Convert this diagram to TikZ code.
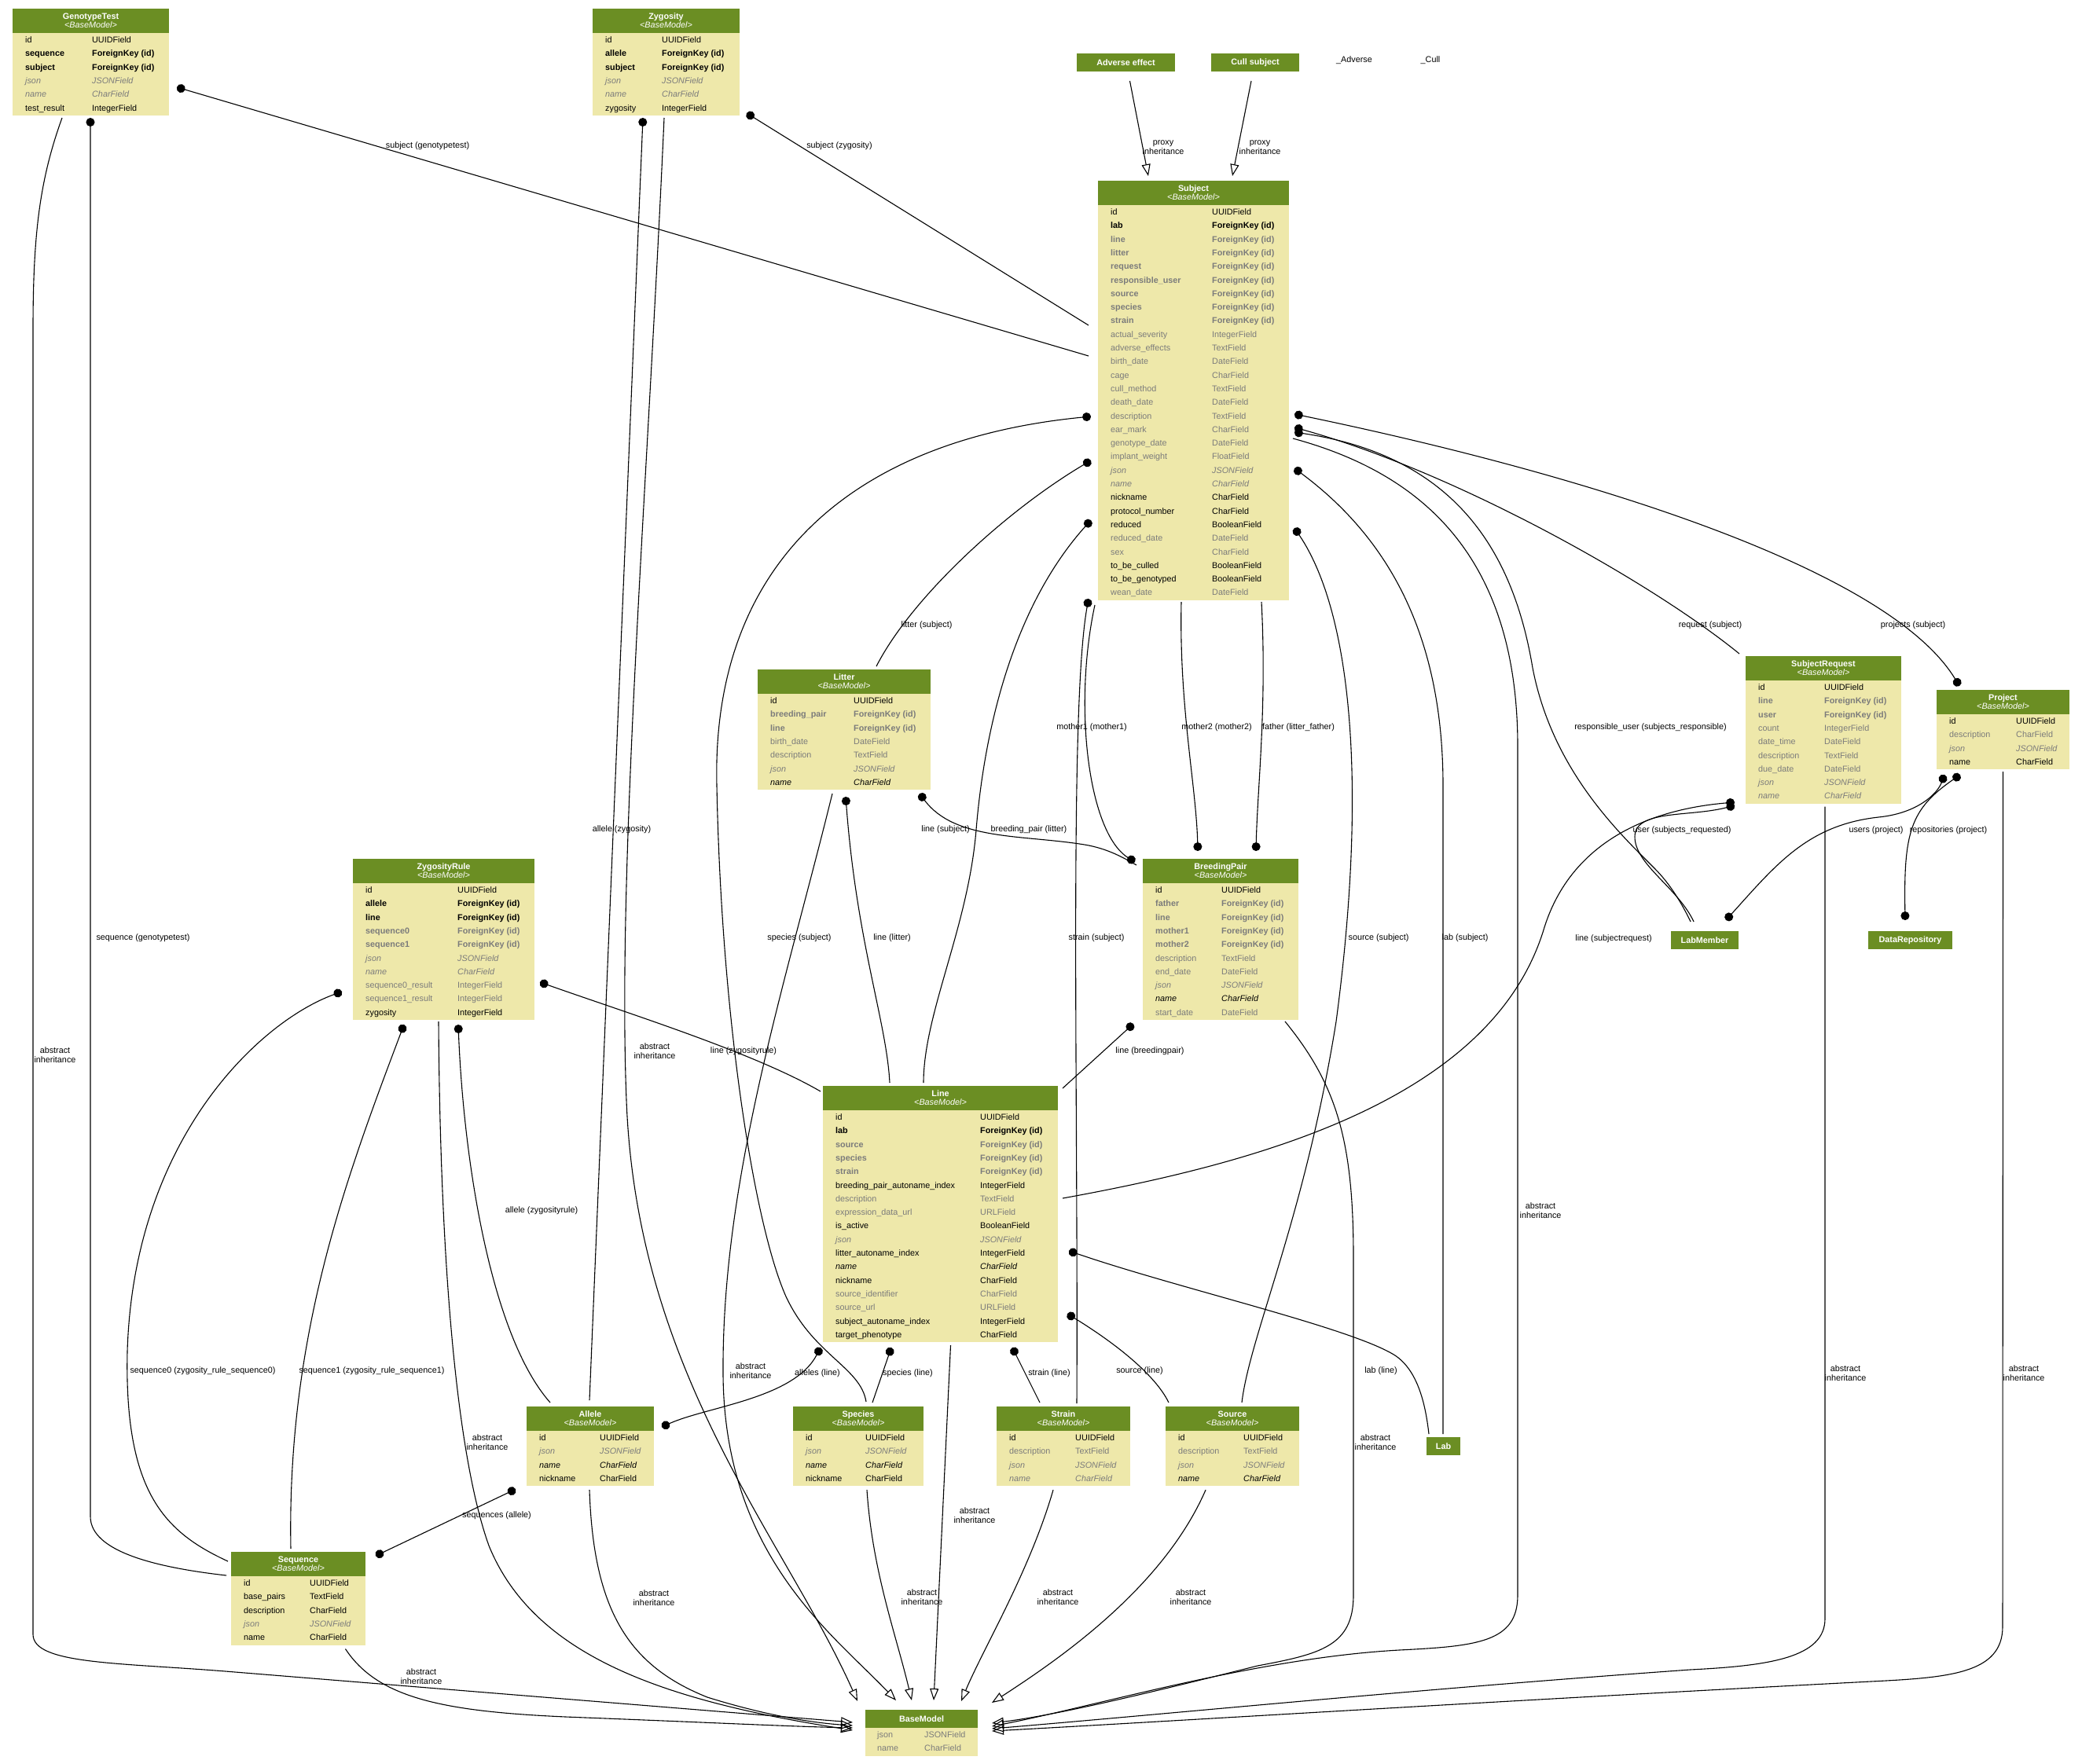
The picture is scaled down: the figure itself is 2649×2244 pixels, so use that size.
\documentclass[tikz,border=0pt]{standalone}
\usepackage{fontspec}
\setmainfont{Liberation Sans}
\usetikzlibrary{arrows.meta, calc}

\definecolor{headgreen}{HTML}{6B8E23}
\definecolor{bodyyellow}{HTML}{EEE8AA}
\definecolor{fieldgray}{HTML}{7B7B7B}

\newcommand{\ffont}{\fontsize{10.8}{12}\selectfont}

% name, left, top, width, second column, rows, title, fields
\newcommand{\model}[8]{%
  \pgfmathsetmacro{\mh}{32+17.3*#6}
  \fill[body] (#2,#3) rectangle ++(#4,\mh);
  \fill[head] (#2,#3) rectangle ++(#4,31);
  \node[modtitle] at (#2+#4/2,#3+13.9) {#7};
  \node[modsub] at (#2+#4/2,#3+24.8) {<BaseModel>};
  \node[frame, minimum width=#4pt, minimum height=\mh pt, anchor=north west] (#1) at (#2,#3) {};
  \foreach \st/\fa/\fb [count=\k] in {#8} {
    \node[\st] at (#2+16,#3+26.25+17.3*\k) {\fa};
    \node[\st] at (#2+#5,#3+26.25+17.3*\k) {\fb};
  }%
}

\begin{document}
\begin{tikzpicture}[
    x=1pt, y=-1pt,
    body/.style={fill=bodyyellow},
    head/.style={fill=headgreen},
    frame/.style={draw=none, inner sep=0pt, outer sep=0pt},
    modtitle/.style={anchor=base, inner sep=0pt, font=\ffont\bfseries, text=white},
    modsub/.style={anchor=base, inner sep=0pt, font=\ffont\itshape, text=white},
    headonly/.style={fill=headgreen, text=white, font=\ffont\bfseries, minimum height=23pt, inner sep=0pt, outer sep=0pt, anchor=north west},
    rowN/.style={anchor=base west, inner sep=0pt, font=\ffont},
    rowB/.style={rowN, font=\ffont\bfseries},
    rowBG/.style={rowB, text=fieldgray},
    rowG/.style={rowN, text=fieldgray},
    rowIG/.style={rowN, font=\ffont\itshape, text=fieldgray},
    rowI/.style={rowN, font=\ffont\itshape},
    elabel/.style={font=\ffont, align=center, inner sep=0pt},
    fk/.style={{Circle[length=11pt]}-, line width=1.1pt},
    fkback/.style={-{Circle[length=11pt]}, line width=1.1pt},
    mm/.style={{Circle[length=11pt]}-{Circle[length=11pt]}, line width=1.1pt},
    inh/.style={-{Triangle[open, length=15pt, width=11pt]}, line width=1.1pt}
  ]

  \fill[white] (0,0) rectangle (2649,2244);

  \model{gt}{16}{11}{199}{101}{6}{GenotypeTest}{rowN/id/UUIDField, rowB/sequence/ForeignKey (id), rowB/subject/ForeignKey (id), rowIG/json/JSONField, rowIG/name/CharField, rowN/test\_result/IntegerField}
  \model{zyg}{754}{11}{187}{88}{6}{Zygosity}{rowN/id/UUIDField, rowB/allele/ForeignKey (id), rowB/subject/ForeignKey (id), rowIG/json/JSONField, rowIG/name/CharField, rowN/zygosity/IntegerField}
  \model{subj}{1397}{230}{243}{145}{29}{Subject}{rowN/id/UUIDField, rowB/lab/ForeignKey (id), rowBG/line/ForeignKey (id), rowBG/litter/ForeignKey (id), rowBG/request/ForeignKey (id), rowBG/responsible\_user/ForeignKey (id), rowBG/source/ForeignKey (id), rowBG/species/ForeignKey (id), rowBG/strain/ForeignKey (id), rowG/actual\_severity/IntegerField, rowG/adverse\_effects/TextField, rowG/birth\_date/DateField, rowG/cage/CharField, rowG/cull\_method/TextField, rowG/death\_date/DateField, rowG/description/TextField, rowG/ear\_mark/CharField, rowG/genotype\_date/DateField, rowG/implant\_weight/FloatField, rowIG/json/JSONField, rowIG/name/CharField, rowN/nickname/CharField, rowN/protocol\_number/CharField, rowN/reduced/BooleanField, rowG/reduced\_date/DateField, rowG/sex/CharField, rowN/to\_be\_culled/BooleanField, rowN/to\_be\_genotyped/BooleanField, rowG/wean\_date/DateField}
  \model{lit}{964}{852}{220}{122}{7}{Litter}{rowN/id/UUIDField, rowBG/breeding\_pair/ForeignKey (id), rowBG/line/ForeignKey (id), rowG/birth\_date/DateField, rowG/description/TextField, rowIG/json/JSONField, rowI/name/CharField}
  \model{bp}{1454}{1093}{198}{100}{10}{BreedingPair}{rowN/id/UUIDField, rowBG/father/ForeignKey (id), rowBG/line/ForeignKey (id), rowBG/mother1/ForeignKey (id), rowBG/mother2/ForeignKey (id), rowG/description/TextField, rowG/end\_date/DateField, rowIG/json/JSONField, rowI/name/CharField, rowG/start\_date/DateField}
  \model{sreq}{2221}{835}{198}{100}{9}{SubjectRequest}{rowN/id/UUIDField, rowBG/line/ForeignKey (id), rowBG/user/ForeignKey (id), rowG/count/IntegerField, rowG/date\_time/DateField, rowG/description/TextField, rowG/due\_date/DateField, rowIG/json/JSONField, rowIG/name/CharField}
  \model{proj}{2464}{878}{169}{101}{4}{Project}{rowN/id/UUIDField, rowG/description/CharField, rowIG/json/JSONField, rowN/name/CharField}
  \model{zrule}{449}{1093}{231}{133}{10}{ZygosityRule}{rowN/id/UUIDField, rowB/allele/ForeignKey (id), rowB/line/ForeignKey (id), rowBG/sequence0/ForeignKey (id), rowBG/sequence1/ForeignKey (id), rowIG/json/JSONField, rowIG/name/CharField, rowG/sequence0\_result/IntegerField, rowG/sequence1\_result/IntegerField, rowN/zygosity/IntegerField}
  \model{line}{1047}{1382}{299}{200}{17}{Line}{rowN/id/UUIDField, rowB/lab/ForeignKey (id), rowBG/source/ForeignKey (id), rowBG/species/ForeignKey (id), rowBG/strain/ForeignKey (id), rowN/breeding\_pair\_autoname\_index/IntegerField, rowG/description/TextField, rowG/expression\_data\_url/URLField, rowN/is\_active/BooleanField, rowIG/json/JSONField, rowN/litter\_autoname\_index/IntegerField, rowI/name/CharField, rowN/nickname/CharField, rowG/source\_identifier/CharField, rowG/source\_url/URLField, rowN/subject\_autoname\_index/IntegerField, rowN/target\_phenotype/CharField}
  \model{allele}{670}{1790}{162}{93}{4}{Allele}{rowN/id/UUIDField, rowIG/json/JSONField, rowI/name/CharField, rowN/nickname/CharField}
  \model{species}{1009}{1790}{166}{92}{4}{Species}{rowN/id/UUIDField, rowIG/json/JSONField, rowI/name/CharField, rowN/nickname/CharField}
  \model{strain}{1268}{1790}{170}{100}{4}{Strain}{rowN/id/UUIDField, rowG/description/TextField, rowIG/json/JSONField, rowIG/name/CharField}
  \model{source}{1483}{1790}{170}{99}{4}{Source}{rowN/id/UUIDField, rowG/description/TextField, rowIG/json/JSONField, rowI/name/CharField}
  \model{seq}{294}{1975}{171}{100}{5}{Sequence}{rowN/id/UUIDField, rowN/base\_pairs/TextField, rowN/description/CharField, rowIG/json/JSONField, rowN/name/CharField}

  \fill[body] (1101,2176) rectangle ++(143,58.6);
  \fill[head] (1101,2176) rectangle ++(143,23);
  \node[modtitle] at (1172.5,2191.5) {BaseModel};
  \node[frame, minimum width=143pt, minimum height=58.6pt, anchor=north west] (base) at (1101,2176) {};
  \node[rowG] at (1116,2211) {json};
  \node[rowG] at (1176,2211) {JSONField};
  \node[rowG] at (1116,2228) {name};
  \node[rowG] at (1176,2228) {CharField};

  \node[headonly, minimum width=125pt] (adv) at (1370,68) {Adverse effect};
  \node[headonly, minimum width=112pt] (cull) at (1541,68) {Cull subject};
  \node[headonly, minimum width=86pt] (lm) at (2126,1185) {LabMember};
  \node[headonly, minimum width=107pt] (drepo) at (2377,1185) {DataRepository};
  \node[headonly, minimum width=43pt] (lab) at (1815,1829) {Lab};
  \node[elabel] (advname) at (1723,77) {\_Adverse};
  \node[elabel] (cullname) at (1820,77) {\_Cull};

  \draw[fk] ($(gt.north west)+(209,100)$) -- ($(subj.north west)+(-12,223)$);
  \draw[fk] ($(zyg.north west)+(196,133)$) -- ($(subj.north west)+(-12,184)$);
  \draw[fk] ($(gt.north west)+(99,139)$) -- (115,1930) .. controls (115,1975) and (200,1995) .. ($(seq.north west)+(-6,30)$);
  \draw[fk] ($(zyg.north west)+(64,139)$) -- ($(allele.north west)+(80,-8)$);
  \draw[fk] ($(subj.north west)+(-9,300)$) .. controls (1080,560) and (905,720) .. (912,1000) .. controls (918,1300) and (960,1560) .. (1000,1650) .. controls (1035,1725) and (1095,1740) .. ($(species.north west)+(93,-6)$);
  \draw[fk] ($(subj.north west)+(-9,356)$) .. controls (1280,650) and (1160,760) .. ($(lit.north west)+(151,-4)$);
  \draw[fk] ($(subj.north west)+(-9,432)$) .. controls (1300,760) and (1255,900) .. (1242,1056) .. controls (1232,1180) and (1175,1290) .. ($(line.north west)+(128,-4)$);
  \draw[fk] ($(subj.north west)+(-12,532)$) .. controls (1360,900) and (1372,1400) .. ($(strain.north west)+(102,-4)$);
  \draw[fkback] ($(subj.north west)+(-4,540)$) .. controls (1365,900) and (1385,1060) .. ($(bp.north west)+(-10,4)$);
  \draw[fkback] ($(subj.north west)+(106,536)$) .. controls (1500,900) and (1522,1000) .. ($(bp.north west)+(70,-10)$);
  \draw[fkback] ($(subj.north west)+(208,536)$) .. controls (1612,900) and (1600,1000) .. ($(bp.north west)+(144,-10)$);
  \draw[fk] ($(lit.north west)+(206,158)$) .. controls (1215,1070) and (1300,1062) .. (1380,1075) .. controls (1410,1080) and (1430,1092) .. ($(bp.north west)+(-8,8)$);
  \draw[fk] ($(lit.north west)+(112,162)$) .. controls (1090,1200) and (1128,1300) .. ($(line.north west)+(85,-4)$);
  \draw[fk] ($(bp.north west)+(-12,210)$) -- ($(line.north east)+(6,3)$);
  \draw[fk] ($(subj.north east)+(7,314)$) .. controls (1850,600) and (2100,740) .. ($(sreq.north west)+(-8,-3)$);
  \draw[mm] ($(subj.north east)+(7,297)$) .. controls (2000,600) and (2400,720) .. ($(proj.north west)+(29,-5)$);
  \draw[fk] ($(subj.north east)+(7,320)$) .. controls (1850,580) and (1925,700) .. (1950,850) .. controls (1975,980) and (2060,1060) .. (2105,1105) .. controls (2125,1125) and (2140,1150) .. ($(lm.north west)+(25,-12)$);
  \draw[fk] ($(subj.north east)+(7,366)$) .. controls (1760,680) and (1836,800) .. (1836,1000) -- ($(lab.north west)+(21,-4)$);
  \draw[fk] ($(subj.north east)+(7,442)$) .. controls (1720,780) and (1740,1000) .. (1700,1300) .. controls (1660,1550) and (1590,1700) .. ($(source.north west)+(97,-5)$);
  \draw[fk] ($(sreq.north west)+(-14,190)$) .. controls (2150,1040) and (2080,1030) .. (2080,1065) .. controls (2080,1100) and (2135,1130) .. ($(lm.north west)+(29,-12)$);
  \draw[fk] ($(sreq.north west)+(-14,186)$) .. controls (2100,1030) and (2000,1070) .. (1965,1180) .. controls (1900,1400) and (1600,1480) .. ($(line.north east)+(6,143)$);
  \draw[mm] ($(proj.north west)+(10,108)$) .. controls (2465,1010) and (2440,1035) .. (2390,1040) .. controls (2300,1050) and (2260,1100) .. ($(lm.north west)+(70,-14)$);
  \draw[mm] ($(proj.north west)+(30,108)$) .. controls (2430,1030) and (2422,1060) .. ($(drepo.north west)+(47,-14)$);
  \draw[fk] ($(zrule.north east)+(7,157)$) .. controls (800,1290) and (960,1340) .. ($(line.north west)+(-3,7)$);
  \draw[fk] ($(zrule.north west)+(134,211)$) .. controls (590,1480) and (625,1700) .. ($(allele.north west)+(30,-5)$);
  \draw[fk] ($(zrule.north west)+(-14,169)$) .. controls (330,1300) and (170,1450) .. (162,1720) .. controls (158,1900) and (210,1950) .. ($(seq.north west)+(-4,12)$);
  \draw[fk] ($(zrule.north west)+(65,211)$) .. controls (440,1500) and (365,1700) .. ($(seq.north west)+(76,-4)$);
  \draw[mm] ($(line.north west)+(-3,333)$) .. controls (1010,1780) and (900,1790) .. ($(allele.north east)+(10,26)$);
  \draw[fk] ($(line.north west)+(87,333)$) -- ($(species.north west)+(101,-5)$);
  \draw[fk] ($(line.north west)+(241,333)$) -- ($(strain.north west)+(55,-5)$);
  \draw[fk] ($(line.north east)+(12,290)$) .. controls (1420,1710) and (1470,1750) .. ($(source.north west)+(4,-5)$);
  \draw[fk] ($(line.north east)+(14,210)$) .. controls (1500,1640) and (1720,1690) .. (1775,1725) .. controls (1805,1745) and (1814,1790) .. ($(lab.north west)+(3,-4)$);
  \draw[mm] ($(allele.south west)+(-14,4)$) -- ($(seq.north east)+(13,5)$);

  \draw[inh] ($(adv.south)+(5,12)$) -- ($(subj.north west)+(64,-6)$);
  \draw[inh] ($(cull.south)+(-5,12)$) -- ($(subj.north west)+(171,-6)$);
  \draw[inh] ($(gt.north west)+(63,139)$) .. controls (50,230) and (42,300) .. (42,420) -- (42,2080) .. controls (42,2118) and (150,2116) .. (287,2127) -- ($(base.north west)+(-16,16)$);
  \draw[inh] ($(zyg.north west)+(91,139)$) .. controls (825,600) and (785,1100) .. (797,1400) .. controls (810,1750) and (1000,1960) .. ($(base.north west)+(-10,-11)$);
  \draw[inh] ($(lit.north west)+(95,158)$) .. controls (1000,1250) and (918,1500) .. (920,1750) .. controls (922,1980) and (1060,2080) .. ($(base.north west)+(39,-12)$);
  \draw[inh] ($(subj.north east)+(5,328)$) .. controls (1800,600) and (1931,700) .. (1931,950) -- (1931,2030) .. controls (1931,2090) and (1880,2095) .. (1780,2100) .. controls (1600,2110) and (1400,2170) .. ($(base.north east)+(18,21)$);
  \draw[inh] ($(bp.north west)+(181,207)$) .. controls (1700,1380) and (1722,1450) .. (1722,1600) -- (1722,2030) .. controls (1722,2095) and (1680,2105) .. (1600,2120) .. controls (1480,2150) and (1350,2182) .. ($(base.north east)+(18,17)$);
  \draw[inh] ($(sreq.south)+(2,4)$) -- (2322,2060) .. controls (2322,2110) and (2250,2120) .. (2150,2125) .. controls (1800,2150) and (1500,2180) .. ($(base.north east)+(18,24)$);
  \draw[inh] ($(proj.south)+(0,3)$) -- (2548,2070) .. controls (2548,2130) and (2480,2135) .. (2380,2140) .. controls (1900,2165) and (1500,2190) .. ($(base.north east)+(18,27)$);
  \draw[inh] ($(zrule.north west)+(109,207)$) .. controls (560,1600) and (580,1850) .. (622,1967) .. controls (680,2110) and (850,2165) .. ($(base.north west)+(-16,26)$);
  \draw[inh] ($(line.south)+(13,4)$) -- ($(base.north west)+(87,-12)$);
  \draw[inh] ($(allele.south)+(-1,5)$) .. controls (755,2050) and (800,2120) .. (900,2160) .. controls (980,2185) and (1040,2193) .. ($(base.north west)+(-16,20)$);
  \draw[inh] ($(species.south)+(11,5)$) .. controls (1110,2000) and (1140,2080) .. ($(base.north west)+(59,-12)$);
  \draw[inh] ($(strain.south)+(-13,5)$) .. controls (1310,2000) and (1250,2100) .. ($(base.north west)+(122,-11)$);
  \draw[inh] ($(source.south)+(-34,5)$) .. controls (1480,2020) and (1350,2110) .. ($(base.north east)+(18,-9)$);
  \draw[inh] ($(seq.south)+(60,5)$) .. controls (480,2160) and (560,2178) .. (720,2185) .. controls (900,2192) and (1000,2197) .. ($(base.north west)+(-16,23)$);

  \node[elabel] (l-adv) at (1480,188) {proxy\\inheritance};
  \node[elabel] (l-cull) at (1603,188) {proxy\\inheritance};
  \node[elabel] (l-gtsubj) at (544,186) {subject (genotypetest)};
  \node[elabel] (l-zygsubj) at (1068,186) {subject (zygosity)};
  \node[elabel] (l-gtseq) at (182,1194) {sequence (genotypetest)};
  \node[elabel] (l-gtbase) at (70,1343) {abstract\\inheritance};
  \node[elabel] (l-zygallele) at (791,1056) {allele (zygosity)};
  \node[elabel] (l-zygbase) at (833,1338) {abstract\\inheritance};
  \node[elabel] (l-subjlit) at (1179,796) {litter (subject)};
  \node[elabel] (l-subjspecies) at (1017,1194) {species (subject)};
  \node[elabel] (l-subjline) at (1203,1056) {line (subject)};
  \node[elabel] (l-litline) at (1135,1194) {line (litter)};
  \node[elabel] (l-litbp) at (1309,1056) {breeding\_pair (litter)};
  \node[elabel] (l-subjstrain) at (1395,1194) {strain (subject)};
  \node[elabel] (l-mother1) at (1389,926) {mother1 (mother1)};
  \node[elabel] (l-mother2) at (1548,926) {mother2 (mother2)};
  \node[elabel] (l-father) at (1652,926) {father (litter\_father)};
  \node[elabel] (l-subjsource) at (1754,1194) {source (subject)};
  \node[elabel] (l-subjlab) at (1864,1194) {lab (subject)};
  \node[elabel] (l-subjlm) at (2100,926) {responsible\_user (subjects\_responsible)};
  \node[elabel] (l-subjreq) at (2176,796) {request (subject)};
  \node[elabel] (l-subjproj) at (2434,796) {projects (subject)};
  \node[elabel] (l-reqlm) at (2140,1057) {user (subjects\_requested)};
  \node[elabel] (l-projlm) at (2387,1057) {users (project)};
  \node[elabel] (l-projrepo) at (2479,1057) {repositories (project)};
  \node[elabel] (l-reqline) at (2053,1195) {line (subjectrequest)};
  \node[elabel] (l-subjbase) at (1960,1541) {abstract\\inheritance};
  \node[elabel] (l-reqbase) at (2348,1748) {abstract\\inheritance};
  \node[elabel] (l-projbase) at (2575,1748) {abstract\\inheritance};
  \node[elabel] (l-zrline) at (946,1338) {line (zygosityrule)};
  \node[elabel] (l-bpline) at (1463,1338) {line (breedingpair)};
  \node[elabel] (l-bpbase) at (1750,1836) {abstract\\inheritance};
  \node[elabel] (l-zrallele) at (689,1541) {allele (zygosityrule)};
  \node[elabel] (l-zrseq0) at (258,1745) {sequence0 (zygosity\_rule\_sequence0)};
  \node[elabel] (l-zrseq1) at (473,1745) {sequence1 (zygosity\_rule\_sequence1)};
  \node[elabel] (l-zrbase) at (620,1836) {abstract\\inheritance};
  \node[elabel] (l-litbase) at (955,1745) {abstract\\inheritance};
  \node[elabel] (l-lineallele) at (1040,1748) {alleles (line)};
  \node[elabel] (l-linespecies) at (1155,1748) {species (line)};
  \node[elabel] (l-linestrain) at (1335,1748) {strain (line)};
  \node[elabel] (l-linesource) at (1450,1745) {source (line)};
  \node[elabel] (l-linelab) at (1757,1745) {lab (line)};
  \node[elabel] (l-linebase) at (1240,1929) {abstract\\inheritance};
  \node[elabel] (l-alleleseq) at (632,1929) {sequences (allele)};
  \node[elabel] (l-allelebase) at (832,2034) {abstract\\inheritance};
  \node[elabel] (l-speciesbase) at (1173,2033) {abstract\\inheritance};
  \node[elabel] (l-strainbase) at (1346,2033) {abstract\\inheritance};
  \node[elabel] (l-sourcebase) at (1515,2033) {abstract\\inheritance};
  \node[elabel] (l-seqbase) at (536,2134) {abstract\\inheritance};

\end{tikzpicture}
\end{document}
